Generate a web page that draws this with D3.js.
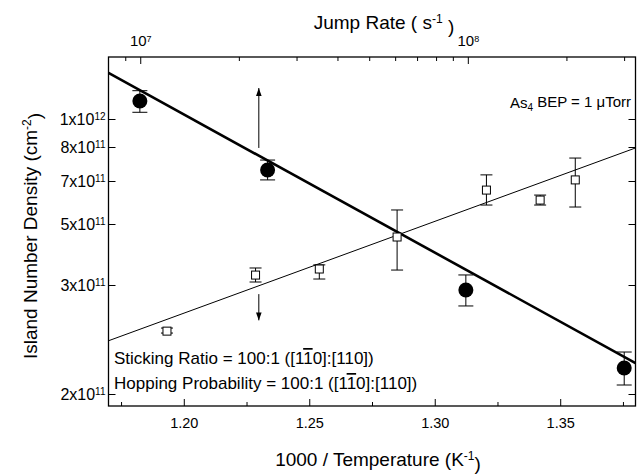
<!DOCTYPE html>
<html>
<head>
<meta charset="utf-8">
<script src="https://cdn.jsdelivr.net/npm/d3@7"></script>
<style>
  body { margin: 0; background: #fff; }
  svg { display: block; font-family: "Liberation Sans", Arial, sans-serif; }
</style>
</head>
<body>
<div class="container"></div>
<script>
// 实心圆: 1000/T 与岛密度 (含误差棒)
const circleX = [1.1825, 1.2334, 1.3124, 1.3755];
const circleY = [1.154e12, 7.31e11, 2.944e11, 2.203e11];
const circleLo = [1.055e12, 7.03e11, 2.775e11, 2.068e11];
const circleHi = [1.253e12, 7.60e11, 3.263e11, 2.338e11];

// 空心方块
const squareX = [1.1933, 1.2286, 1.254, 1.285, 1.3206, 1.342, 1.356];
const squareY = [2.527e11, 3.26e11, 3.43e11, 4.484e11, 6.52e11, 6.03e11, 7.03e11];
const squareLo = [2.509e11, 3.076e11, 3.154e11, 3.40e11, 5.80e11, 5.80e11, 5.71e11];
const squareHi = [2.556e11, 3.459e11, 3.55e11, 5.58e11, 7.17e11, 6.27e11, 7.66e11];

// 拟合直线端点
const fitX = [1.17, 1.38];
const fitCircleY = [1.443e12, 2.244e11];
const fitSquareY = [2.438e11, 7.97e11];

// 箭头标注
const arrowX = 1.2299;
const arrowUpY = [7.97e11, 1.28e12];
const arrowDownY = [2.90e11, 2.63e11];

// 刻度
const xTicks = [1.20, 1.25, 1.30, 1.35];
const xMinorTicks = [1.175, 1.225, 1.275, 1.325, 1.375];
const yTicks = [2e11, 3e11, 5e11, 7e11, 8e11, 1e12];
const yTickBase = ["2x10", "3x10", "5x10", "7x10", "8x10", "1x10"];
const yTickExp = ["11", "11", "11", "11", "11", "12"];
const topDomain = [8.0e6, 3.25e8];
const topTicks = [1e7, 1e8];
const topTickExp = ["7", "8"];
const topMinorTicks = [9e6, 2e7, 3e7, 4e7, 5e7, 6e7, 7e7, 8e7, 9e7, 2e8, 3e8];

// 尺寸
const W = 637, H = 474;
const margin = { top: 57, right: 1.5, bottom: 68, left: 108.5 };
const width = W - margin.left - margin.right;
const height = H - margin.top - margin.bottom;
// 纵轴标签在原图中的位置 (相对绘图区高度)
const yTickFrac = [337, 228, 167, 124, 90, 62].map(v => v / 349);

const svg = d3.select(".container").append("svg")
  .attr("width", W).attr("height", H)
  .style("background-color", "white");

const g = svg.append("g").attr("transform", `translate(${margin.left},${margin.top})`);

const x = d3.scaleLinear().domain([1.17, 1.38]).range([0, width]);
const y = d3.scaleLog().domain(yTicks).range(yTickFrac.map(f => f * height));
const xTop = d3.scaleLog().domain(topDomain).range([0, width]);

// 边框
g.append("rect").attr("width", width).attr("height", height)
  .attr("fill", "none").attr("stroke", "#000").attr("stroke-width", 1.3);

// 下轴
g.append("g").attr("transform", `translate(0,${height})`)
  .call(d3.axisBottom(x).tickValues(xTicks).tickSize(-7).tickPadding(12).tickFormat(d3.format(".2f")))
  .call(a => a.select(".domain").remove())
  .call(a => a.selectAll("text").attr("font-size", "14.5px").attr("font-family", null).attr("fill", "#000"));
g.append("g").attr("transform", `translate(0,${height})`)
  .call(d3.axisBottom(x).tickValues(xMinorTicks).tickSize(-4).tickFormat(""))
  .call(a => a.select(".domain").remove());

// 上轴
g.append("g")
  .call(d3.axisTop(xTop).tickValues(topTicks).tickSize(-7).tickPadding(11).tickFormat(""))
  .call(a => a.select(".domain").remove())
  .call(a => a.selectAll(".tick text").attr("font-size", "15px").attr("font-family", null).attr("fill", "#000")
    .each(function (d, i) {
      const t = d3.select(this);
      t.append("tspan").text("10");
      t.append("tspan").attr("dy", "-0.45em").attr("font-size", "9px").text(topTickExp[i]);
    }));
g.append("g")
  .call(d3.axisTop(xTop).tickValues(topMinorTicks).tickSize(-4).tickFormat(""))
  .call(a => a.select(".domain").remove());

// 左轴
g.append("g")
  .call(d3.axisLeft(y).tickValues(yTicks).tickSize(-7).tickPadding(3).tickFormat(""))
  .call(a => a.select(".domain").remove())
  .call(a => a.selectAll(".tick text").attr("font-size", "16px").attr("font-family", null).attr("fill", "#000")
    .each(function (d, i) {
      const t = d3.select(this);
      t.append("tspan").text(yTickBase[i]);
      t.append("tspan").attr("dy", "-0.45em").attr("font-size", "10px").text(yTickExp[i]);
    }));
// 右轴
g.append("g").attr("transform", `translate(${width},0)`)
  .call(d3.axisRight(y).tickValues(yTicks).tickSize(-7).tickFormat(""))
  .call(a => a.select(".domain").remove());

// 拟合线
const line = d3.line().x(d => x(d[0])).y(d => y(d[1]));
g.append("path").datum(fitX.map((v, i) => [v, fitCircleY[i]]))
  .attr("d", line).attr("fill", "none").attr("stroke", "#000").attr("stroke-width", 2.6);
g.append("path").datum(fitX.map((v, i) => [v, fitSquareY[i]]))
  .attr("d", line).attr("fill", "none").attr("stroke", "#000").attr("stroke-width", 1);

// 误差棒
function errorBars(xs, lo, hi, cap, cls) {
  const eb = g.append("g").attr("class", cls).attr("stroke", "#000").attr("stroke-width", 1);
  xs.forEach((v, i) => {
    eb.append("line").attr("x1", x(v)).attr("x2", x(v)).attr("y1", y(lo[i])).attr("y2", y(hi[i]));
    eb.append("line").attr("x1", x(v) - cap).attr("x2", x(v) + cap).attr("y1", y(lo[i])).attr("y2", y(lo[i]));
    eb.append("line").attr("x1", x(v) - cap).attr("x2", x(v) + cap).attr("y1", y(hi[i])).attr("y2", y(hi[i]));
  });
}
errorBars(squareX, squareLo, squareHi, 6, "sq-err");
errorBars(circleX, circleLo, circleHi, 7.5, "ci-err");

// 方块
g.selectAll(".sq").data(squareX).enter().append("rect").attr("class", "sq")
  .attr("x", d => x(d) - 4).attr("y", (d, i) => y(squareY[i]) - 4)
  .attr("width", 8).attr("height", 8)
  .attr("fill", "#fff").attr("stroke", "#000").attr("stroke-width", 1);

// 圆点
g.selectAll(".dot").data(circleX).enter().append("circle").attr("class", "dot")
  .attr("cx", d => x(d)).attr("cy", (d, i) => y(circleY[i])).attr("r", 7.5)
  .attr("fill", "#000");

// 箭头
const defs = svg.append("defs");
defs.append("marker").attr("id", "head").attr("viewBox", "0 0 10 10")
  .attr("refX", 10).attr("refY", 5).attr("markerWidth", 8).attr("markerHeight", 8)
  .attr("markerUnits", "userSpaceOnUse").attr("orient", "auto")
  .append("path").attr("d", "M0,1.5L10,5L0,8.5Z").attr("fill", "#000");
[arrowUpY, arrowDownY].forEach(ys => {
  g.append("line").attr("x1", x(arrowX)).attr("x2", x(arrowX))
    .attr("y1", y(ys[0])).attr("y2", y(ys[1]))
    .attr("stroke", "#000").attr("stroke-width", 1).attr("marker-end", "url(#head)");
});

// 标注文字
const ann = svg.append("text").attr("x", 631).attr("y", 108).attr("text-anchor", "end")
  .attr("font-size", "15px");
ann.append("tspan").text("As");
ann.append("tspan").attr("dy", "0.3em").attr("font-size", "10px").text("4");
ann.append("tspan").attr("dy", "-0.3em").text(" BEP = 1 \u03bcTorr");

function millerText(yPos, label) {
  const t = svg.append("text").attr("x", 114).attr("y", yPos).attr("font-size", "17px");
  t.append("tspan").text(label + " = 100:1 ([1");
  t.append("tspan").style("text-decoration", "overline").text("1");
  t.append("tspan").text("0]:[110])");
}
millerText(364, "Sticking Ratio");
millerText(389, "Hopping Probability");

// 轴标题
const xt = svg.append("text").attr("x", 378).attr("y", 466).attr("text-anchor", "middle").attr("font-size", "19px");
xt.append("tspan").text("1000 / Temperature (K");
xt.append("tspan").attr("dy", "-0.5em").attr("font-size", "12px").text("-1");
xt.append("tspan").attr("dy", "0.5em").text(")");

const tt = svg.append("text").attr("x", 384).attr("y", 29).attr("text-anchor", "middle").attr("font-size", "19px");
tt.append("tspan").text("Jump Rate ( s");
tt.append("tspan").attr("dy", "-0.5em").attr("font-size", "12px").text("-1");
tt.append("tspan").attr("dy", "0.5em").text(" )");

const yt = svg.append("text").attr("transform", "rotate(-90)").attr("x", -236).attr("y", 37)
  .attr("text-anchor", "middle").attr("font-size", "19px");
yt.append("tspan").text("Island Number Density (cm");
yt.append("tspan").attr("dy", "-0.5em").attr("font-size", "12px").text("-2");
yt.append("tspan").attr("dy", "0.5em").text(")");
</script>
</body>
</html>
